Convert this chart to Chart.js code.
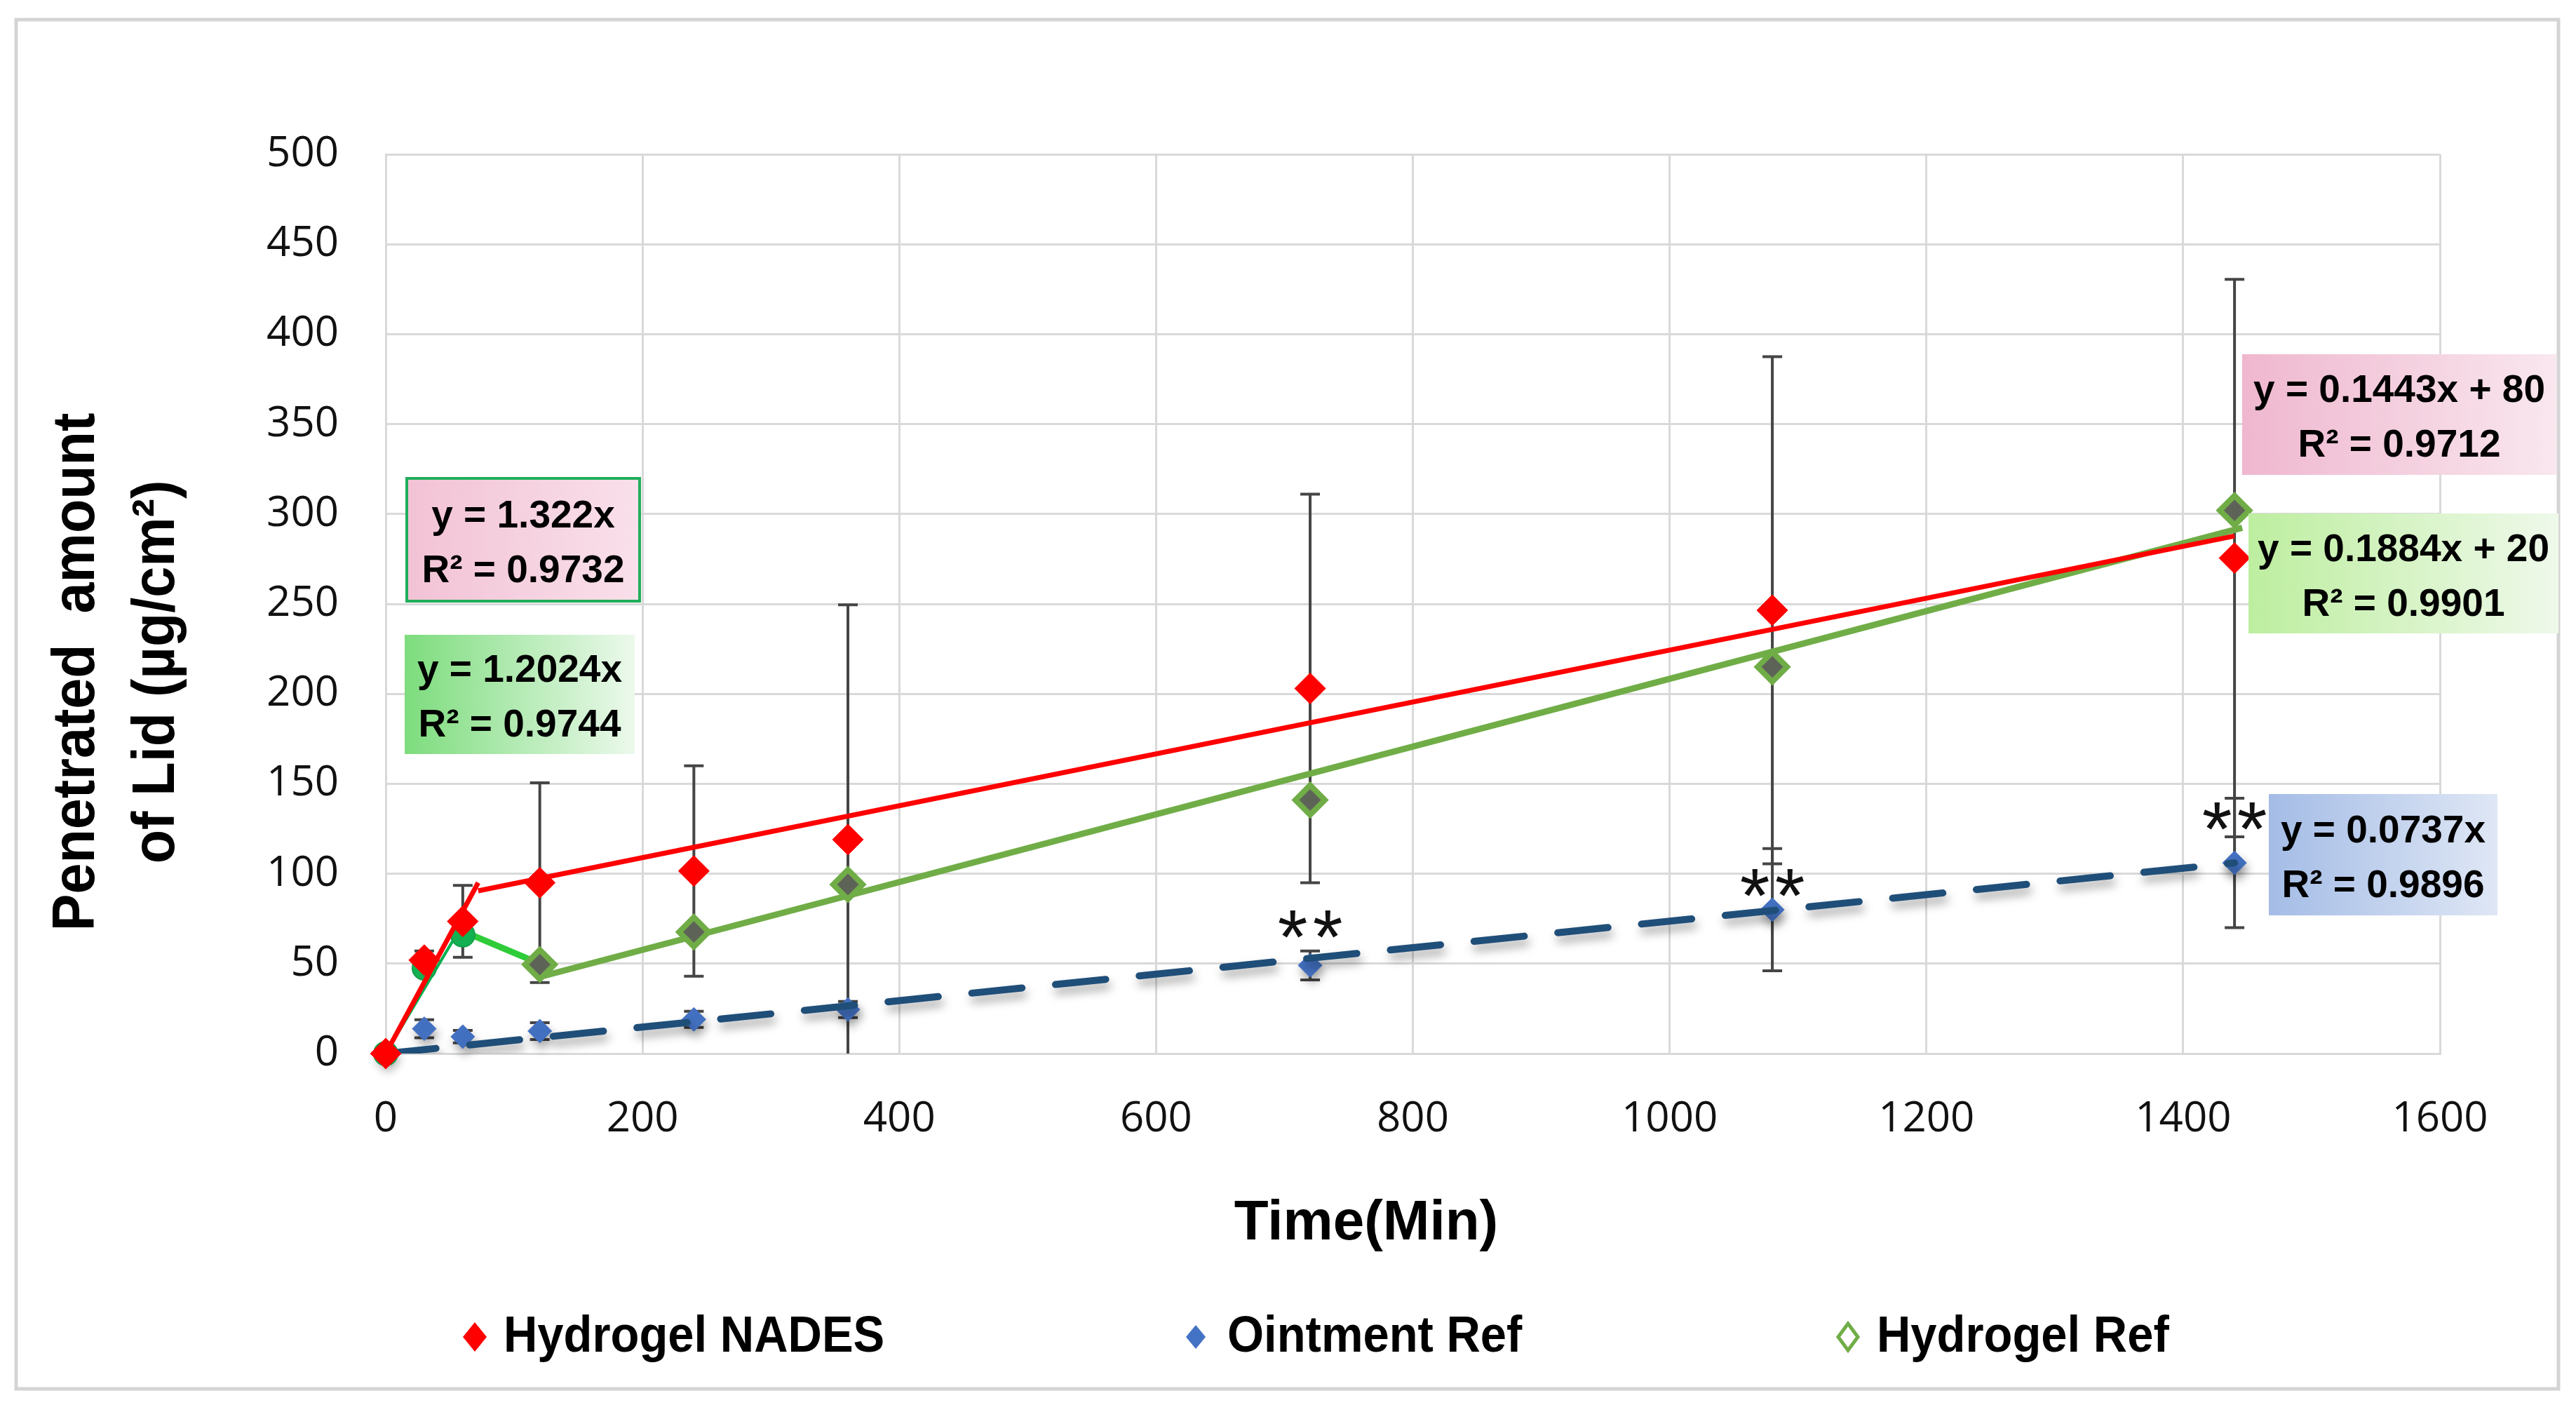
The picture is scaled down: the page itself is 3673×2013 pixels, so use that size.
<!DOCTYPE html>
<html>
<head>
<meta charset="utf-8">
<script src="https://cdn.jsdelivr.net/npm/chart.js@4.4.1/dist/chart.umd.min.js"></script>
<style>
  html, body { margin: 0; padding: 0; background: #fff; }
</style>
</head>
<body>
<canvas id="permeationChart" width="3673" height="2013"></canvas>
<script>
const times = [0, 30, 60, 120, 240, 360, 720, 1080, 1440]
const nadesMean = [0, 52, 73.5, 95, 101.5, 119, 203, 246.5, 275.5]
const nadesSd = [0, 5, 20, 55.5, 58.5, 130.5, 108, 141, 155]
const ointMean = [0, 13.8, 9.4, 12.5, 19, 24.5, 49, 80, 106]
const ointSd = [0, 5, 3.5, 4.7, 4.5, 4.5, 8, 34, 36]
const hydroRefMean = [0, 47.6, 66, 49.5, 67.6, 94, 141, 215, 302]

// trend line end points as drawn in the figure
const nadesFitEarly = [[0, 0], [72, 95]]
const nadesFitLate = [[72, 90.5], [1440, 287.8]]
const ointFit = [[0, 0], [1440, 106]]
const refFitEarly = [[0, 0], [60, 72]]
const refLink = [[60, 68], [120, 50]]
const refFitLate = [[120, 42.6], [1446, 292.4]]

const xTicks = [0, 200, 400, 600, 800, 1000, 1200, 1400, 1600]
const yTicks = [0, 50, 100, 150, 200, 250, 300, 350, 400, 450, 500]
const seriesNames = ["Hydrogel NADES", "Ointment Ref", "Hydrogel Ref"]

const fitTexts = [
    ["y = 1.322x", "R² = 0.9732"],
    ["y = 1.2024x", "R² = 0.9744"],
    ["y = 0.1443x + 80", "R² = 0.9712"],
    ["y = 0.1884x + 20", "R² = 0.9901"],
    ["y = 0.0737x", "R² = 0.9896"]
]
const starTimes = [720, 1080, 1440]
const starLevels = [72, 95, 132]

const pts = (xs, ys) => xs.map((t, i) => ({ x: t, y: ys[i] }))
const seg = (arr) => arr.map(p => ({ x: p[0], y: p[1] }))

// boxes for the equations (pixels)
const fitBoxes = [
    { box: [580, 682, 912, 857], from: "#f2c2d5", to: "#f9e0ea", border: "#1fae5a" },
    { box: [577, 905, 905, 1075], from: "#7ddc7d", to: "#ecf9ec" },
    { box: [3197, 505, 3645, 677], from: "#efb7ce", to: "#f9e7ef" },
    { box: [3206, 732, 3648, 903], from: "#bdee9f", to: "#eff9eb" },
    { box: [3235, 1132, 3561, 1305], from: "#a4bce6", to: "#dfe7f5" }
]

const errorBars = {
    id: "errorBars",
    beforeDatasetsDraw(chart) {
        const { ctx, chartArea, scales: { x, y } } = chart
        ctx.save()
        ctx.beginPath()
        ctx.rect(chartArea.left, chartArea.top, chartArea.width, chartArea.height)
        ctx.clip()
        ctx.strokeStyle = "#454545"
        ctx.lineWidth = 4
        const cap = 14
        const draw = (means, sds) => {
            times.forEach((t, i) => {
                if (!sds[i]) return
                const px = x.getPixelForValue(t)
                const top = y.getPixelForValue(means[i] + sds[i])
                const bot = y.getPixelForValue(means[i] - sds[i])
                ctx.beginPath()
                ctx.moveTo(px, top); ctx.lineTo(px, bot)
                ctx.moveTo(px - cap, top); ctx.lineTo(px + cap, top)
                ctx.moveTo(px - cap, bot); ctx.lineTo(px + cap, bot)
                ctx.stroke()
            })
        }
        draw(nadesMean, nadesSd)
        draw(ointMean, ointSd)
        ctx.restore()
    }
}

const shadows = {
    id: "shadows",
    beforeDatasetDraw(chart, args) {
        if (!chart.data.datasets[args.index].shadow) return
        const ctx = chart.ctx
        ctx.save()
        ctx.shadowColor = "rgba(0,0,0,0.35)"
        ctx.shadowBlur = 14
        ctx.shadowOffsetX = 3
        ctx.shadowOffsetY = 9
    },
    afterDatasetDraw(chart, args) {
        if (!chart.data.datasets[args.index].shadow) return
        chart.ctx.restore()
    }
}

function diamond(ctx, cx, cy, hw, hh) {
    ctx.beginPath()
    ctx.moveTo(cx, cy - hh)
    ctx.lineTo(cx + hw, cy)
    ctx.lineTo(cx, cy + hh)
    ctx.lineTo(cx - hw, cy)
    ctx.closePath()
}

function squeezeText(ctx, text, x, y, sx) {
    ctx.save()
    ctx.translate(x, y)
    ctx.scale(sx, 1)
    ctx.fillText(text, 0, 0)
    ctx.restore()
}

const decorations = {
    id: "decorations",
    beforeDraw(chart) {
        const ctx = chart.ctx
        ctx.save()
        ctx.fillStyle = "#ffffff"
        ctx.fillRect(0, 0, chart.width, chart.height)
        ctx.restore()
    },
    afterDraw(chart) {
        const { ctx, scales: { x, y } } = chart
        ctx.save()

        // outer frame
        ctx.strokeStyle = "#d4d4d4"
        ctx.lineWidth = 5
        ctx.strokeRect(23, 28, 3625, 1952)

        // significance stars
        ctx.fillStyle = "#111"
        ctx.font = "110px 'Liberation Sans'"
        ctx.textAlign = "center"
        ctx.textBaseline = "alphabetic"
        const m = ctx.measureText("*")
        const off = (m.actualBoundingBoxAscent - m.actualBoundingBoxDescent) / 2
        starTimes.forEach((t, i) => {
            const px = x.getPixelForValue(t)
            const py = y.getPixelForValue(starLevels[i])
            ctx.fillText("*", px - 25, py + off)
            ctx.fillText("*", px + 25, py + off)
        })

        // equation boxes
        fitBoxes.forEach((b, i) => {
            const [x0, y0, x1, y1] = b.box
            const g = ctx.createLinearGradient(x0, 0, x1, 0)
            g.addColorStop(0, b.from)
            g.addColorStop(1, b.to)
            ctx.fillStyle = g
            ctx.fillRect(x0, y0, x1 - x0, y1 - y0)
            if (b.border) {
                ctx.strokeStyle = b.border
                ctx.lineWidth = 4
                ctx.strokeRect(x0, y0, x1 - x0, y1 - y0)
            }
            const cx = (x0 + x1) / 2, cy = (y0 + y1) / 2
            ctx.fillStyle = "#000"
            ctx.font = "bold 55px 'Liberation Sans'"
            ctx.textAlign = "center"
            ctx.textBaseline = "alphabetic"
            ctx.fillText(fitTexts[i][0], cx, cy - 18)
            ctx.fillText(fitTexts[i][1], cx, cy + 60)
        })

        // axis titles
        ctx.fillStyle = "#000"
        ctx.font = "bold 80px 'Liberation Sans'"
        ctx.textAlign = "center"
        ctx.textBaseline = "middle"
        ctx.fillText("Time(Min)", 1948, 1745)

        ctx.font = "bold 86px 'Liberation Sans'"
        ctx.textBaseline = "alphabetic"
        ;[["Penetrated  amount", 134], ["of Lid (µg/cm²)", 248]].forEach(([txt, bx]) => {
            ctx.save()
            ctx.translate(bx, 958)
            ctx.rotate(-Math.PI / 2)
            ctx.scale(0.92, 1)
            ctx.fillText(txt, 0, 0)
            ctx.restore()
        })

        // legend
        const legendY = 1906
        ctx.font = "bold 72px 'Liberation Sans'"
        ctx.textAlign = "left"
        ctx.textBaseline = "alphabetic"

        diamond(ctx, 677, legendY, 17, 21)
        ctx.fillStyle = "#ff0000"; ctx.fill()
        ctx.fillStyle = "#000"
        squeezeText(ctx, seriesNames[0], 718, 1927, 0.93)

        diamond(ctx, 1705, legendY, 14, 17)
        ctx.fillStyle = "#4472c4"; ctx.fill()
        ctx.fillStyle = "#000"
        squeezeText(ctx, seriesNames[1], 1750, 1927, 0.93)

        diamond(ctx, 2635, legendY, 14, 19)
        ctx.fillStyle = "#fff"; ctx.fill()
        ctx.strokeStyle = "#70ad47"; ctx.lineWidth = 5; ctx.stroke()
        ctx.fillStyle = "#000"
        squeezeText(ctx, seriesNames[2], 2676, 1927, 0.93)

        ctx.restore()
    }
}

const refStyle = times.map((t, i) => i < 3 ? "circle" : "rectRot")

const data = {
    datasets: [
        {
            label: "nades fit early",
            data: seg(nadesFitEarly),
            showLine: true, borderColor: "#ff0000", borderWidth: 7,
            pointRadius: 0, order: 1
        },
        {
            label: seriesNames[0],
            data: pts(times, nadesMean),
            pointStyle: "rectRot", pointRadius: 22,
            pointBackgroundColor: "#ff0000", pointBorderColor: "#ff0000", pointBorderWidth: 1,
            clip: false, order: 2
        },
        {
            label: "nades fit late",
            data: seg(nadesFitLate),
            showLine: true, borderColor: "#ff0000", borderWidth: 7,
            pointRadius: 0, order: 3
        },
        {
            label: seriesNames[2],
            data: pts(times, hydroRefMean),
            pointStyle: refStyle,
            pointRadius: times.map((t, i) => i < 3 ? 17 : 21),
            pointBackgroundColor: times.map((t, i) => i < 3 ? "#12b050" : "#5e6358"),
            pointBorderColor: times.map((t, i) => i < 3 ? "#12a04a" : "#70ad47"),
            pointBorderWidth: times.map((t, i) => i < 3 ? 2 : 8),
            shadow: false, clip: false, order: 4
        },
        {
            label: "ref fit early",
            data: seg(refFitEarly),
            showLine: true, borderColor: "#00b050", borderWidth: 4,
            pointRadius: 0, order: 5
        },
        {
            label: "ref link",
            data: seg(refLink),
            showLine: true, borderColor: "#2fcc3a", borderWidth: 9,
            pointRadius: 0, order: 6
        },
        {
            label: "ref fit late",
            data: seg(refFitLate),
            showLine: true, borderColor: "#70ad47", borderWidth: 9,
            pointRadius: 0, order: 7
        },
        {
            label: "ointment fit",
            data: seg(ointFit),
            showLine: true, borderColor: "#1f4e79", borderWidth: 10,
            borderDash: [72, 48], borderCapStyle: "round",
            pointRadius: 0, shadow: true, order: 8
        },
        {
            label: seriesNames[1],
            data: pts(times, ointMean),
            pointStyle: "rectRot", pointRadius: 17,
            pointBackgroundColor: "#4472c4", pointBorderColor: "#4472c4", pointBorderWidth: 1,
            shadow: true, clip: false, order: 9
        }
    ]
}

const config = {
    type: "scatter",
    data: data,
    options: {
        responsive: false,
        animation: false,
        devicePixelRatio: 1,
        layout: { padding: { left: 0, top: 220, right: 194, bottom: 0 } },
        plugins: {
            legend: { display: false },
            tooltip: { enabled: false }
        },
        scales: {
            x: {
                type: "linear",
                min: 0,
                max: 1600,
                afterBuildTicks: s => { s.ticks = xTicks.map(v => ({ value: v })) },
                afterFit: s => { s.height = 511 },
                ticks: {
                    color: "#111",
                    padding: 58,
                    maxRotation: 0,
                    font: { family: "'Open Sans'", size: 60 },
                    callback: v => String(v)
                },
                grid: { color: "#d9d9d9", lineWidth: 3, drawTicks: false, tickLength: 0 },
                border: { color: "#d9d9d9", width: 3 }
            },
            y: {
                type: "linear",
                min: 0,
                max: 500,
                afterBuildTicks: s => { s.ticks = yTicks.map(v => ({ value: v })) },
                afterFit: s => { s.width = 550 },
                ticks: {
                    color: "#111",
                    padding: 67,
                    font: { family: "'Open Sans'", size: 60 },
                    callback: v => String(v)
                },
                grid: { color: "#d9d9d9", lineWidth: 3, drawTicks: false, tickLength: 0 },
                border: { color: "#d9d9d9", width: 3 }
            }
        }
    },
    plugins: [decorations, errorBars, shadows]
}

const ctx = document.getElementById("permeationChart")
let permeationChart = new Chart(ctx, config)
</script>
</body>
</html>
